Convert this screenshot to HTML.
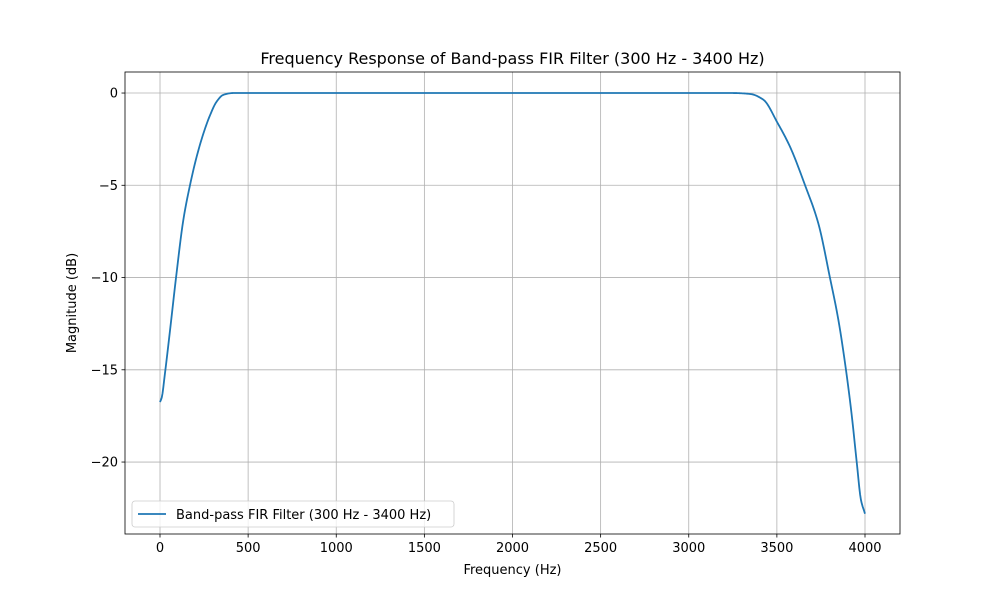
<!DOCTYPE html>
<html><head><meta charset="utf-8"><style>
body{margin:0;background:#fff;}
svg text{font-family:"DejaVu Sans","Liberation Sans",sans-serif;fill:#000;}
</style></head><body>
<svg id="chart" width="1000" height="600" xmlns="http://www.w3.org/2000/svg"></svg>
<script>
const freqs = [0,10,28,57,91,132,170,208,246,284,321,359,415,1000,2000,3000,3250,3348,3423,3505,3574,3660,3735,3801,3849,3892,3924,3953,3977,4000];
const mags = [-16.75,-16.5,-15.2,-12.85,-10,-6.9,-5,-3.45,-2.2,-1.2,-0.47,-0.1,0,0,0,0,0,-0.05,-0.36,-1.64,-2.9,-5,-7.06,-10,-12.3,-15,-17.4,-20,-22.05,-22.8];
const xTicks = [0,500,1000,1500,2000,2500,3000,3500,4000];
const yTicks = [0,-5,-10,-15,-20];
const yTickLabels = ["0","\u22125","\u221210","\u221215","\u221220"];

const L=125,R=900,T=72,B=534;
const xMin=-198.6,xMax=4198.6,yMin=-23.9,yMax=1.14;
const sx=v=>L+(v-xMin)/(xMax-xMin)*(R-L);
const sy=v=>B-(v-yMin)/(yMax-yMin)*(B-T);
const svg=document.getElementById('chart');
const NS='http://www.w3.org/2000/svg';
function mk(tag,attrs,parent){const e=document.createElementNS(NS,tag);for(const k in attrs)e.setAttribute(k,attrs[k]);(parent||svg).appendChild(e);return e;}

xTicks.forEach(t=>{
  const g=mk('line',{x1:sx(t),x2:sx(t),y1:T,y2:B,stroke:'#b0b0b0','stroke-width':0.8});
  
  
  mk('line',{x1:sx(t),x2:sx(t),y1:B,y2:B+3.5,stroke:'#000','stroke-width':0.8});
  const tx=mk('text',{x:sx(t),y:B+18,'text-anchor':'middle','font-size':13});
  tx.textContent=t;
  
  
});
yTicks.forEach((t,i)=>{
  const g=mk('line',{x1:L,x2:R,y1:sy(t),y2:sy(t),stroke:'#b0b0b0','stroke-width':0.8});
  
  
  mk('line',{x1:L-3.5,x2:L,y1:sy(t),y2:sy(t),stroke:'#000','stroke-width':0.8});
  const tx=mk('text',{x:L-7,y:sy(t)+4.5,'text-anchor':'end','font-size':13});
  tx.textContent=yTickLabels[i];
  
  
});

// monotone cubic (Fritsch-Carlson) in data space
const n=freqs.length, dl=[], m=[];
for(let i=0;i<n-1;i++) dl.push((mags[i+1]-mags[i])/(freqs[i+1]-freqs[i]));
m[0]=dl[0]; m[n-1]=dl[n-2];
for(let i=1;i<n-1;i++){
  if(dl[i-1]*dl[i]<=0) m[i]=0;
  else { const h0=freqs[i]-freqs[i-1],h1=freqs[i+1]-freqs[i];
    const w1=2*h1+h0,w2=h1+2*h0; m[i]=(w1+w2)/(w1/dl[i-1]+w2/dl[i]); }
}
let d='';
for(let i=0;i<n-1;i++){
  const h=freqs[i+1]-freqs[i];
  const steps=Math.max(4,Math.ceil(sx(freqs[i+1])-sx(freqs[i])));
  for(let s=0;s<=steps;s++){
    if(i>0&&s===0) continue;
    const t=s/steps,t2=t*t,t3=t2*t;
    const v=(2*t3-3*t2+1)*mags[i]+(t3-2*t2+t)*h*m[i]+(-2*t3+3*t2)*mags[i+1]+(t3-t2)*h*m[i+1];
    const f=freqs[i]+t*h;
    d+=(d?'L':'M')+sx(f).toFixed(2)+','+sy(v).toFixed(2);
  }
}
const line=mk('path',{d:d,fill:'none',stroke:'#1f77b4','stroke-width':1.8,'stroke-linejoin':'round'});



const frame=mk('rect',{x:L,y:T,width:R-L,height:B-T,fill:'none',stroke:'#000','stroke-width':0.8});



const title=mk('text',{x:(L+R)/2,y:64,'text-anchor':'middle','font-size':16});
title.textContent='Frequency Response of Band-pass FIR Filter (300 Hz - 3400 Hz)';


const xl=mk('text',{x:(L+R)/2,y:574,'text-anchor':'middle','font-size':13});
xl.textContent='Frequency (Hz)';


const yl=mk('text',{x:0,y:0,'text-anchor':'middle','font-size':13,transform:`translate(76,${(T+B)/2}) rotate(-90)`});
yl.textContent='Magnitude (dB)';



const lg=mk('rect',{x:132,y:501,width:322,height:26,rx:3,fill:'#fff','fill-opacity':0.8,stroke:'#ccc','stroke-width':0.8});


mk('line',{x1:138,x2:166,y1:514,y2:514,stroke:'#1f77b4','stroke-width':1.8});
const lt=mk('text',{x:176,y:519,'font-size':13});
lt.textContent='Band-pass FIR Filter (300 Hz - 3400 Hz)';


</script>
</body></html>
